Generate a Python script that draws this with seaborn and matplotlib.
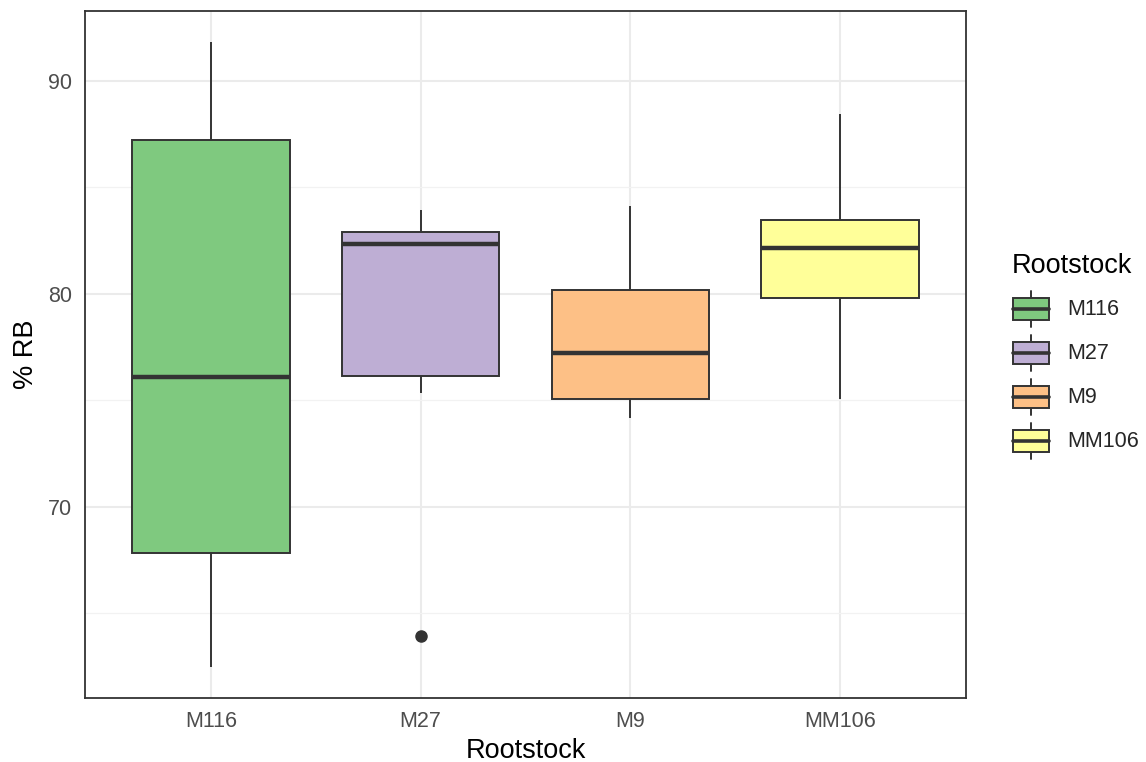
import matplotlib
matplotlib.use("Agg")
import matplotlib.pyplot as plt
from matplotlib.legend_handler import HandlerBase
from matplotlib.patches import Rectangle, Patch
from matplotlib.lines import Line2D
from matplotlib.ticker import MultipleLocator
import numpy as np
import pandas as pd
import seaborn as sns

# ---- data (values chosen to reproduce the box statistics) ----
categories = ["M116", "M27", "M9", "MM106"]
m116_values = [62.50, 67.83, 76.10, 87.20, 91.80]
m27_values = [63.96, 75.33, 76.12, 79.00, 82.35, 82.60, 82.90, 83.50, 83.94]
m9_values = [74.15, 75.06, 77.24, 80.16, 84.10]
mm106_values = [75.07, 79.81, 82.16, 83.47, 88.45]
colors = ["#7FC97F", "#BEAED4", "#FDC086", "#FFFF99"]
y_ticks = [70, 80, 90]

groups = [m116_values, m27_values, m9_values, mm106_values]
df = pd.DataFrame({
    "Rootstock": np.concatenate([[c] * len(v) for c, v in zip(categories, groups)]),
    "RB": np.concatenate(groups),
})

sns.set_theme(style="white")
plt.rcParams["font.family"] = ["Liberation Sans", "DejaVu Sans"]

fig = plt.figure(figsize=(11.46, 7.62), dpi=100)
ax = fig.add_axes([85 / 1146, 1 - 698 / 762, (966 - 85) / 1146, (698 - 11) / 762])

line_col = "#333333"
sns.boxplot(
    data=df, x="Rootstock", y="RB", hue="Rootstock", order=categories,
    hue_order=categories, palette=colors, width=0.75, linecolor=line_col,
    linewidth=1.4, showcaps=False, whis=1.5, legend=False, saturation=1,
    medianprops=dict(linewidth=3.2, color=line_col),
    flierprops=dict(marker="o", markersize=8, markerfacecolor=line_col,
                    markeredgecolor=line_col),
    ax=ax, zorder=3,
)

# ggplot-like limits
ymin, ymax = 62.50, 91.80
pad = (ymax - ymin) * 0.05
ax.set_ylim(ymin - pad, ymax + pad)
ax.set_xlim(-0.6, len(categories) - 0.4)
ax.set_yticks(y_ticks)
ax.yaxis.set_minor_locator(MultipleLocator(5))
ax.set_axisbelow(True)
ax.grid(True, which="major", color="#EBEBEB", linewidth=1.5, zorder=0)
ax.grid(True, which="minor", axis="y", color="#F2F2F2", linewidth=0.9, zorder=0)
ax.tick_params(axis="both", which="major", length=5.5, width=1.2, color=line_col,
               labelsize=15.5, labelcolor="#4D4D4D", pad=4)
ax.tick_params(axis="y", which="minor", length=0)
for s in ax.spines.values():
    s.set_color("#333333")
    s.set_linewidth(1.3)
ax.set_xlabel("Rootstock", fontsize=19.5, color="black", labelpad=4)
ax.set_ylabel("% RB", fontsize=19.5, color="black", labelpad=6.5)


class BoxHandler(HandlerBase):
    def create_artists(self, legend, orig_handle, xdescent, ydescent, width,
                       height, fontsize, trans):
        x0, y0 = -xdescent, -ydescent
        fc = orig_handle.get_facecolor()
        xm = x0 + width / 2
        arts = [
            Line2D([xm, xm], [y0 + 0.1 * height, y0 + 0.25 * height], color=line_col, lw=1.4),
            Line2D([xm, xm], [y0 + 0.75 * height, y0 + 0.9 * height], color=line_col, lw=1.4),
            Rectangle((x0 + 0.1 * width, y0 + 0.25 * height), 0.8 * width, 0.5 * height,
                      facecolor=fc, edgecolor=line_col, lw=1.4),
            Line2D([x0 + 0.1 * width, x0 + 0.9 * width], [y0 + 0.5 * height] * 2,
                   color=line_col, lw=2.6),
        ]
        for a in arts:
            a.set_transform(trans)
        return arts


handles = [Patch(facecolor=c, edgecolor=line_col) for c in colors]
leg_fs = 15.5
key_w_pt = 45 * 72 / 100
key_h_pt = 44 * 72 / 100
h_len = key_w_pt / leg_fs
h_hgt = (key_h_pt / leg_fs - 0.245) / 0.65
fig.text(1012 / 1146, 1 - 273 / 762, "Rootstock", fontsize=19.5, color="black",
         ha="left", va="baseline")
leg = fig.legend(
    handles, categories, loc="upper left",
    bbox_to_anchor=(1008 / 1146, 1 - 287 / 762), frameon=False,
    fontsize=leg_fs, handler_map={Patch: BoxHandler()},
    handlelength=h_len, handleheight=h_hgt,
    labelspacing=0.0, handletextpad=0.66, borderpad=0, borderaxespad=0,
)

fig.savefig("out.png", dpi=100)
